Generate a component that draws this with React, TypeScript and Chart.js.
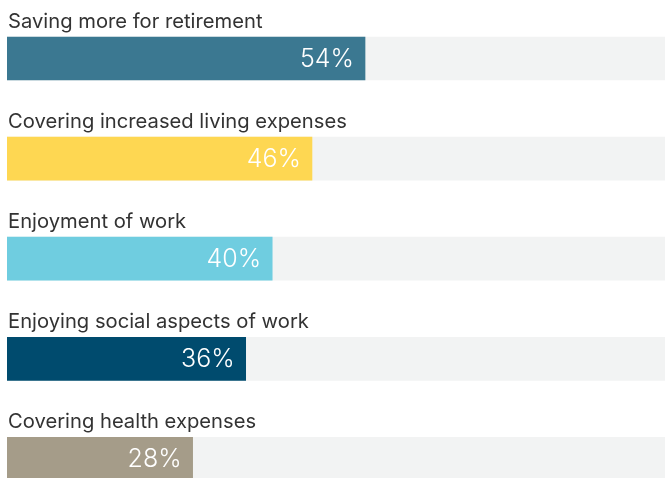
import React, { useEffect, useRef } from "react";
import { Chart, registerables } from "chart.js";

Chart.register(...registerables);

const categories = [
  "Saving more for retirement",
  "Covering increased living expenses",
  "Enjoyment of work",
  "Enjoying social aspects of work",
  "Covering health expenses",
];
const values = [54, 46, 40, 36, 28];
const trackValues = [100, 100, 100, 100, 100];
const barColors = ["#3B7891", "#FED752", "#6FCDE0", "#004B6E", "#A59C89"];
const trackColor = "#F2F3F3";

const labelPlugin = {
  id: "labels",
  afterDatasetsDraw(chart: any) {
    const ctx = chart.ctx;
    const meta = chart.getDatasetMeta(0);
    ctx.save();
    meta.data.forEach((bar: any, i: number) => {
      const top = bar.y - bar.height / 2;
      ctx.font = "400 20.2px Inter";
      ctx.fillStyle = "#333333";
      ctx.textAlign = "left";
      ctx.textBaseline = "alphabetic";
      ctx.fillText(categories[i], chart.chartArea.left + 1, top - 9);
      ctx.font = "300 25px Inter";
      ctx.fillStyle = "#FFFFFF";
      ctx.textAlign = "right";
      ctx.textBaseline = "middle";
      ctx.fillText(values[i] + "%", bar.x - 11, bar.y + 1);
    });
    ctx.restore();
  },
};

export default function App() {
  const ref = useRef<HTMLCanvasElement>(null);
  useEffect(() => {
    const chart = new Chart(ref.current!, {
      type: "bar",
      data: {
        labels: categories,
        datasets: [
          {
            data: values,
            backgroundColor: barColors,
            barThickness: 43,
            grouped: false,
            order: 0,
          },
          {
            data: trackValues,
            backgroundColor: trackColor,
            barThickness: 43,
            grouped: false,
            order: 1,
          },
        ],
      },
      options: {
        indexAxis: "y",
        animation: false,
        responsive: true,
        maintainAspectRatio: false,
        layout: { padding: { left: 7, top: 8.4, right: 0, bottom: 1 } },
        scales: {
          x: { display: false, min: 0, max: 100 },
          y: { display: false },
        },
        plugins: {
          legend: { display: false },
          tooltip: { enabled: false },
        },
      },
      plugins: [labelPlugin],
    });
    return () => chart.destroy();
  }, []);
  return (
    <div style={{ position: "fixed", left: 0, top: 0, width: 670, height: 510 }}>
      <canvas ref={ref} />
    </div>
  );
}
